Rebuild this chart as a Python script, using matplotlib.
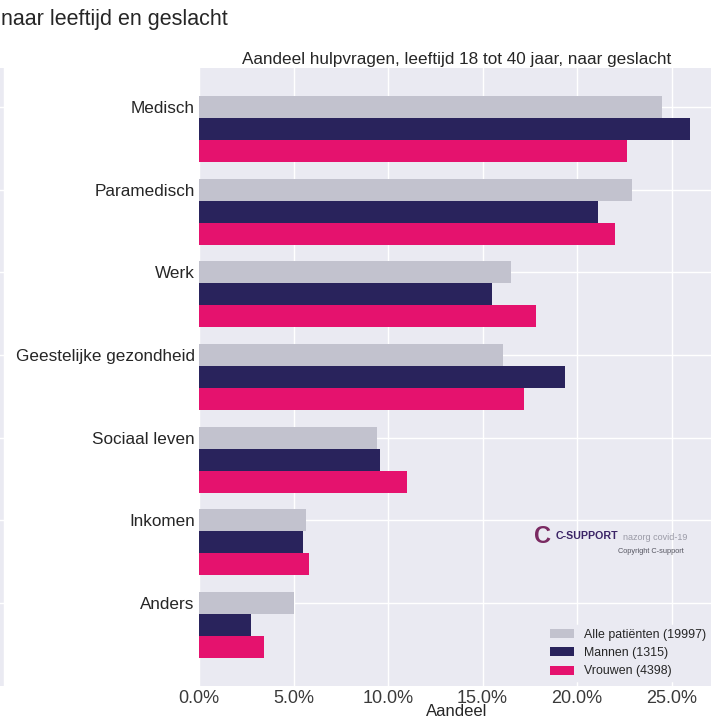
import numpy as np
import matplotlib.pyplot as plt
from matplotlib.ticker import PercentFormatter

categories = ["Medisch", "Paramedisch", "Werk", "Geestelijke gezondheid",
              "Sociaal leven", "Inkomen", "Anders"]
alle = [24.5, 22.9, 16.5, 16.1, 9.4, 5.65, 5.0]
mannen = [26.0, 21.1, 15.5, 19.35, 9.6, 5.5, 2.75]
vrouwen = [22.65, 22.0, 17.85, 17.2, 11.0, 5.8, 3.45]
series_labels = ["Alle patiënten (19997)", "Mannen (1315)", "Vrouwen (4398)"]
colors = ["#c2c2ce", "#29235c", "#e5126e"]

BG = "#eaeaf2"
TXT = "#262626"
plt.rcParams["font.family"] = ["Liberation Sans", "DejaVu Sans"]

fig = plt.figure(figsize=(7.11, 7.26), dpi=100)

# main panel
ax = fig.add_axes([0.2799, 0.0551, 0.7257, 0.8512])
# sliver of the neighbouring panel at the left edge
ax0 = fig.add_axes([-0.30, 0.0551, 0.3056, 0.8512], sharey=ax)

y = np.arange(len(categories))
h = 0.8 / 3
for k, (vals, lab, col) in enumerate(zip([alle, mannen, vrouwen], series_labels, colors)):
    ax.barh(y + k * h, vals, height=h, color=col, label=lab, zorder=2)

for a in (ax, ax0):
    a.set_facecolor(BG)
    for s in a.spines.values():
        s.set_visible(False)
    a.grid(True, color="white", linewidth=1.0, zorder=0)
    a.set_axisbelow(True)
    a.tick_params(length=0, pad=3, labelsize=12.3, colors=TXT)

ax.tick_params(axis="x", labelsize=13, labelcolor="#3a3a3a", pad=3)
ax.invert_yaxis()
ax.set_yticks(y)
ax.set_yticklabels(categories)
ax.set_xticks(np.arange(0, 26, 5))
ax.xaxis.set_major_formatter(PercentFormatter(decimals=1))
ax.set_xlabel("Aandeel", fontsize=12, color=TXT, labelpad=-2)
ax.set_title("Aandeel hulpvragen, leeftijd 18 tot 40 jaar, naar geslacht",
             fontsize=12.3, color=TXT, pad=3)
ax0.tick_params(labelleft=False, labelbottom=False)

leg = ax.legend(loc="lower right", fontsize=8.9, frameon=True, facecolor=BG,
                edgecolor=BG, framealpha=1, handlelength=2.0, handleheight=0.75,
                borderaxespad=0.4, labelspacing=0.5, handletextpad=0.8,
                borderpad=0.3)
for t in leg.get_texts():
    t.set_color(TXT)

# logo block
ax.text(0.650, 0.242, "C", transform=ax.transAxes, fontsize=17, fontweight="bold",
        color="#7a2a62", ha="left", va="center")
ax.text(0.692, 0.242, "C-SUPPORT", transform=ax.transAxes, fontsize=7.7,
        fontweight="bold", color="#3b2466", ha="left", va="center")
ax.text(0.822, 0.241, "nazorg covid-19", transform=ax.transAxes, fontsize=6.5,
        color="#9a9aa6", ha="left", va="center")
ax.text(0.812, 0.218, "Copyright C-support", transform=ax.transAxes, fontsize=5.3,
        color="#555560", ha="left", va="center")

fig.text(0.002, 0.988, "naar leeftijd en geslacht", fontsize=15.5, color=TXT,
         ha="left", va="top")

fig.savefig("out.png", dpi=100)
